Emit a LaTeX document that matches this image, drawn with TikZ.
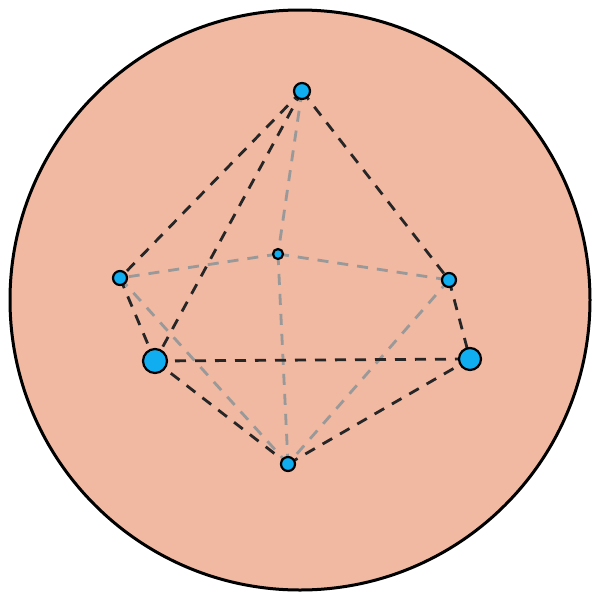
\documentclass[tikz,border=0pt]{standalone}
\begin{document}
\begin{tikzpicture}[x=1pt,y=-1pt,
  vtx/.style={circle,draw=black,line width=2.2pt,fill=vblue,inner sep=0pt},
  front/.style={black!85,line width=2.8pt,dash pattern=on 11pt off 9pt},
  back/.style={black!40,line width=2.8pt,dash pattern=on 11pt off 9pt}]
\definecolor{bg}{HTML}{F1B8A2}
\definecolor{vblue}{HTML}{10ADF0}
\useasboundingbox (0,0) rectangle (600,600);
\draw[fill=bg,line width=3pt] (300,300) circle (290);
\coordinate (T) at (302,91);
\coordinate (LB) at (120,278);
\coordinate (C) at (278,254);
\coordinate (RB) at (449,280);
\coordinate (LF) at (155,361);
\coordinate (RF) at (470,359);
\coordinate (B) at (288,464);
\draw[back] (T)--(C) (C)--(LB) (C)--(RB) (C)--(B) (LB)--(B) (RB)--(B);
\draw[front] (T)--(LB) (T)--(LF) (T)--(RB) (RB)--(RF) (LB)--(LF) (LF)--(RF) (LF)--(B) (B)--(RF);
\node[vtx,minimum size=16pt] (nT) at (T) {};
\node[vtx,minimum size=14pt] (nLB) at (LB) {};
\node[vtx,minimum size=10pt] (nC) at (C) {};
\node[vtx,minimum size=14pt] (nRB) at (RB) {};
\node[vtx,minimum size=24pt] (nLF) at (LF) {};
\node[vtx,minimum size=22pt] (nRF) at (RF) {};
\node[vtx,minimum size=14pt] (nB) at (B) {};
\end{tikzpicture}
\end{document}
